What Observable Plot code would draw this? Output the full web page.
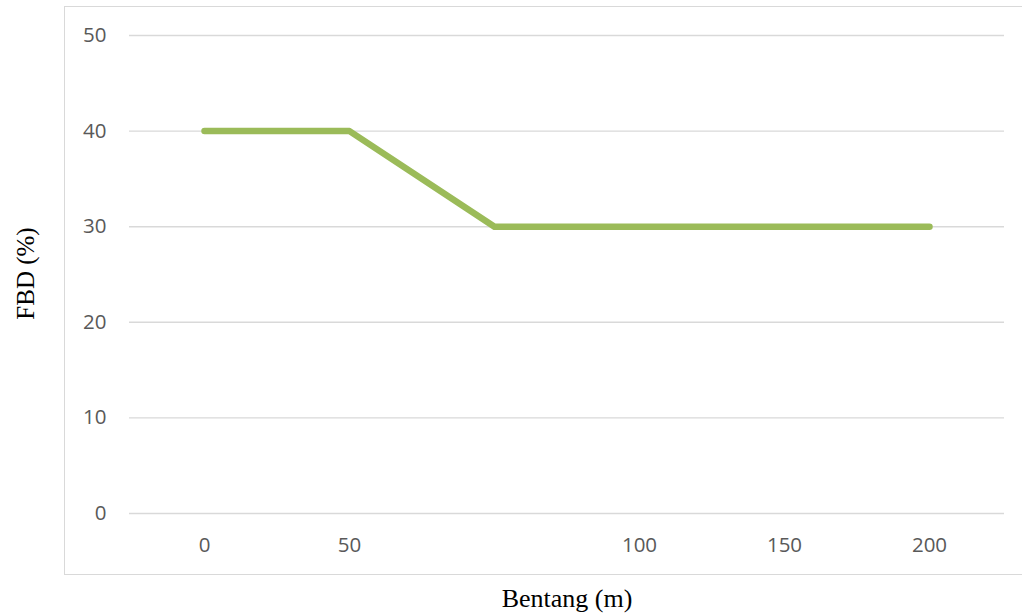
<!DOCTYPE html>
<html>
<head>
<meta charset="utf-8">
<script src="https://cdn.jsdelivr.net/npm/d3@7"></script>
<script src="https://cdn.jsdelivr.net/npm/@observablehq/plot@0.6"></script>
<style>
  html, body { margin: 0; padding: 0; background: #fff; overflow: hidden; }
  #chart { position: relative; width: 1022px; height: 613px; overflow: hidden; }
  #chart .outline {
    position: absolute; left: 64px; top: 6px; width: 1100px; height: 569px;
    border: 1.5px solid #d9d9d9; box-sizing: border-box; pointer-events: none;
  }
  #chart svg { position: absolute; left: 0; top: 0; }
</style>
</head>
<body>
<div id="chart"><div class="outline"></div></div>
<script>
// Span categories (m) as shown on the axis; the third position carries no label
const spanLabels = ["0", "50", "", "100", "150", "200"];
// FBD (%) for each span category
const fbdValues = [40, 40, 30, 30, 30, 30];
// Y-axis ticks
const yTicks = [0, 10, 20, 30, 40, 50];

const rows = spanLabels.map((label, i) => ({i, label, fbd: fbdValues[i]}));
const idx = rows.map(d => d.i);

const tickFont = "'Open Sans', sans-serif";
const titleFont = "'Liberation Serif', 'Times New Roman', serif";

const chart = Plot.plot({
  width: 1022,
  height: 613,
  marginLeft: 129,
  marginRight: 18,
  marginTop: 35,
  marginBottom: 100,
  style: {background: "transparent", fontFamily: tickFont, fontSize: "20.5px", color: "#595959", overflow: "visible"},
  x: {type: "point", domain: idx, padding: 0.5},
  y: {domain: [0, 50]},
  marks: [
    Plot.ruleY(yTicks, {stroke: "#d9d9d9", strokeWidth: 1.4}),
    Plot.axisY({ticks: yTicks, tickSize: 0, tickPadding: 23, label: null, fontSize: 20.5, fill: "#595959"}),
    Plot.axisX({ticks: idx, tickSize: 0, tickPadding: 24, label: null, fontSize: 20.5, fill: "#595959",
      tickFormat: i => spanLabels[i]}),
    Plot.lineY(rows, {x: "i", y: "fbd", stroke: "#9bbb59", strokeWidth: 6.5,
      strokeLinecap: "round", strokeLinejoin: "round"}),
    Plot.text(["Bentang (m)"], {frameAnchor: "bottom", dy: 85, textAnchor: "middle", lineAnchor: "middle",
      fontFamily: titleFont, fontSize: 26, fill: "#000", text: d => d}),
    Plot.text(["FBD (%)"], {frameAnchor: "left", dx: -104, dy: -1, rotate: -90, textAnchor: "middle",
      lineAnchor: "middle", fontFamily: titleFont, fontSize: 25, fill: "#000", text: d => d})
  ]
});
document.getElementById("chart").appendChild(chart);
</script>
</body>
</html>
